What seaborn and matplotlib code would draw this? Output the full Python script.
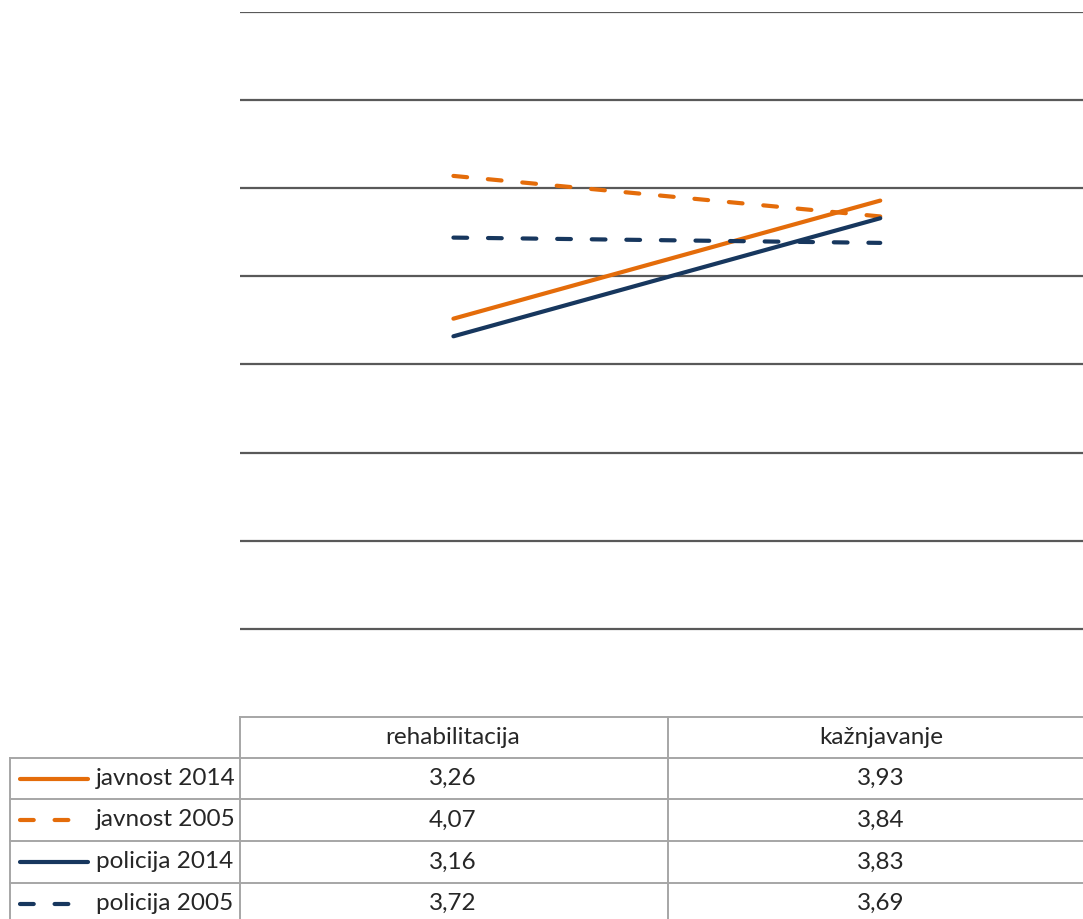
import numpy as np
import pandas as pd
import seaborn as sns
import matplotlib.pyplot as plt
from matplotlib.lines import Line2D

# Data
categories = ["rehabilitacija", "kažnjavanje"]
series = ["javnost 2014", "javnost 2005", "policija 2014", "policija 2005"]
javnost_2014 = [3.26, 3.93]
javnost_2005 = [4.07, 3.84]
policija_2014 = [3.16, 3.83]
policija_2005 = [3.72, 3.69]
values = [javnost_2014, javnost_2005, policija_2014, policija_2005]

orange = "#E46C0A"
navy = "#17375E"
palette = {"javnost 2014": orange, "javnost 2005": orange,
           "policija 2014": navy, "policija 2005": navy}
dash_pat = (3.3, 5.0)
dashes = {"javnost 2014": "", "javnost 2005": dash_pat,
          "policija 2014": "", "policija 2005": dash_pat}

# long-form table for seaborn
df = pd.DataFrame([
    {"kategorija": c, "vrijednost": v, "serija": s}
    for s, vals in zip(series, values)
    for c, v in zip(categories, vals)
])

W, H = 1083, 919
fig = plt.figure(figsize=(W / 100, H / 100), dpi=100)
ax = fig.add_axes([240 / W, 1 - 717 / H, 843 / W, (717 - 12) / H])

sns.lineplot(data=df, x="kategorija", y="vrijednost", hue="serija", style="serija",
             palette=palette, dashes=dashes, sort=False, linewidth=3,
             legend=False, ax=ax)
for ln in ax.lines:
    ln.set_solid_capstyle("round")
    ln.set_dash_capstyle("round")

ax.set_xlim(-0.5, 1.475)
ax.set_ylim(1, 5)
ax.set_yticks(np.arange(1.5, 5.01, 0.5))
ax.yaxis.grid(True, color="#595959", linewidth=1.6)
ax.set_axisbelow(True)
ax.tick_params(left=False, bottom=False, labelleft=False, labelbottom=False)
ax.set_xlabel("")
ax.set_ylabel("")
for sp in ax.spines.values():
    sp.set_visible(False)

# data table under the chart (pixel layout)
def px(x, y):
    return x / W, 1 - y / H

grid_c = "#A6A6A6"
def hline(y, x0, x1):
    fig.add_artist(Line2D([x0 / W, x1 / W], [1 - y / H] * 2, color=grid_c, lw=1.4))
def vline(x, y0, y1):
    fig.add_artist(Line2D([x / W] * 2, [1 - y0 / H, 1 - y1 / H], color=grid_c, lw=1.4))

row_y = [717, 758, 799, 841, 883]
hline(717, 240, 1083)
for y in row_y[1:]:
    hline(y, 10, 1083)
vline(10, 758, 919)
vline(240, 717, 919)
vline(668, 717, 919)

col_x = [453, 881]
font = dict(family="Lato", fontsize=17.5, color="#262626")
for cx, cat in zip(col_x, categories):
    fig.text(*px(cx, 738), cat, ha="center", va="center", **font)

for i, (s, vals) in enumerate(zip(series, values)):
    yc = (row_y[i + 1] + (row_y[i + 2] if i + 2 < len(row_y) else 924)) / 2
    ls = "-" if dashes[s] == "" else (0, dash_pat)
    fig.add_artist(Line2D([20 / W, 88 / W], [1 - yc / H] * 2, color=palette[s],
                          lw=3, linestyle=ls, solid_capstyle="round",
                          dash_capstyle="round"))
    fig.text(*px(96, yc), s, ha="left", va="center", **font)
    for cx, v in zip(col_x, vals):
        fig.text(*px(cx, yc), f"{v:.2f}".replace(".", ","), ha="center",
                 va="center", **font)

fig.savefig("out.png", dpi=100)
